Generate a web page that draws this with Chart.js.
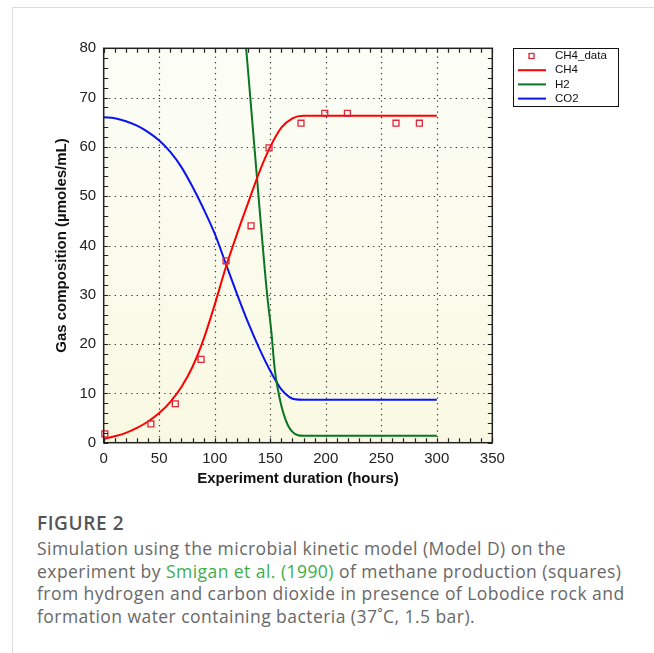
<!DOCTYPE html>
<html><head><meta charset="utf-8">
<script src="https://cdn.jsdelivr.net/npm/chart.js@4/dist/chart.umd.min.js"></script>
<style>
html,body{margin:0;padding:0;background:#fff;}
body{width:654px;height:653px;position:relative;overflow:hidden;}
#frameTop{position:absolute;left:13px;top:7px;width:641px;height:1px;background:#dcdcdc;}
#frameLeft{position:absolute;left:12px;top:7px;width:1px;height:646px;background:#dcdcdc;}
#wrap{position:absolute;left:0;top:0;width:654px;height:495px;}
#fig{position:absolute;left:37px;top:509px;font-family:"Open Sans","Noto Sans",sans-serif;font-size:19px;font-weight:600;color:#555;letter-spacing:0.6px;line-height:28px;}
#cap{position:absolute;left:37px;top:537px;font-family:"Open Sans","Noto Sans",sans-serif;font-size:17.5px;color:#686868;line-height:22.7px;letter-spacing:0.45px;white-space:nowrap;}
#cap .ref{color:#3dae4a;}
</style></head>
<body>
<div id="frameTop"></div><div id="frameLeft"></div>
<div id="wrap"><canvas id="c" width="654" height="495"></canvas></div>
<div id="fig">FIGURE 2</div>
<div id="cap">Simulation using the microbial kinetic model (Model D) on the<br>experiment by <span class="ref">Smigan et al. (1990)</span> of methane production (squares)<br>from hydrogen and carbon dioxide in presence of Lobodice rock and<br>formation water containing bacteria (37˚C, 1.5 bar).</div>
<script>
// measured CH4 (squares)
const dataHours = [1, 42.5, 64.5, 87.7, 110.2, 132.7, 148.9, 177.7, 199.1, 219.5, 263.3, 284.3];
const dataCH4   = [1.8, 3.8, 7.9, 16.9, 36.9, 44.0, 59.8, 64.8, 66.8, 66.8, 64.8, 64.8];
// model CH4
const ch4Hours = [0, 10, 20, 30, 40, 50, 60, 70, 80, 90, 100, 110, 120, 130, 140, 150, 160, 170, 180, 300];
const ch4Model = [0.8, 1.3, 2.0, 3.0, 4.3, 6.0, 8.3, 11.3, 15.4, 21.0, 28.0, 35.6, 42.3, 48.6, 54.8, 60.0, 63.9, 65.8, 66.3, 66.3];
// model H2
const h2Hours = [120, 130, 140, 147, 151, 154, 157, 160, 163, 166, 170, 175, 180, 300];
const h2Model = [101.5, 75.5, 48.5, 30.5, 22.5, 15.0, 10.7, 7.5, 5.2, 3.5, 2.2, 1.5, 1.4, 1.4];
// model CO2
const co2Hours = [0, 10, 20, 30, 40, 50, 60, 70, 80, 90, 100, 110, 120, 130, 140, 150, 160, 167, 172, 180, 300];
const co2Model = [66.0, 65.8, 65.2, 64.3, 63.0, 61.3, 59.0, 55.9, 51.9, 47.4, 42.4, 36.3, 30.2, 24.4, 19.2, 14.6, 10.8, 9.3, 8.8, 8.7, 8.7];
// axes
const xTicks = [0, 50, 100, 150, 200, 250, 300, 350];
const yTicks = [0, 10, 20, 30, 40, 50, 60, 70, 80];
const seriesNames = ['CH4_data', 'CH4', 'H2', 'CO2'];

const pts = (xs, ys) => xs.map((x, i) => ({x: x, y: ys[i]}));

const framePlugin = {
  id: 'frame',
  beforeDatasetsDraw(chart) {
    const {ctx, chartArea: a, scales: {x, y}} = chart;
    ctx.save();
    const g = ctx.createLinearGradient(a.left, a.top, a.left, a.bottom);
    g.addColorStop(0, '#fcfdf6');
    g.addColorStop(1, '#f9f9e3');
    ctx.fillStyle = g;
    ctx.fillRect(a.left, a.top, a.right - a.left, a.bottom - a.top);
    ctx.strokeStyle = '#333';
    ctx.lineWidth = 1.2;
    ctx.setLineDash([1.3, 4.2]);
    xTicks.forEach(v => {
      if (v === x.min || v === x.max) return;
      const px = Math.round(x.getPixelForValue(v)) + 0.5;
      ctx.beginPath(); ctx.moveTo(px, a.bottom); ctx.lineTo(px, a.top); ctx.stroke();
    });
    yTicks.forEach(v => {
      if (v === y.min || v === y.max) return;
      const py = Math.round(y.getPixelForValue(v)) + 0.5;
      ctx.beginPath(); ctx.moveTo(a.left, py); ctx.lineTo(a.right, py); ctx.stroke();
    });
    ctx.restore();
  },
  afterDatasetsDraw(chart) {
    const {ctx, chartArea: a, scales: {x, y}} = chart;
    ctx.save();
    ctx.strokeStyle = '#222';
    ctx.lineWidth = 1.2;
    const L = 4.5;
    for (let v = x.min; v <= x.max; v += 10) {
      const px = Math.round(x.getPixelForValue(v)) + 0.5;
      ctx.beginPath();
      ctx.moveTo(px, a.bottom); ctx.lineTo(px, a.bottom - L);
      ctx.moveTo(px, a.top); ctx.lineTo(px, a.top + L);
      ctx.stroke();
    }
    for (let v = y.min; v <= y.max; v += 2) {
      const py = Math.round(y.getPixelForValue(v)) + 0.5;
      ctx.beginPath();
      ctx.moveTo(a.left, py); ctx.lineTo(a.left + L, py);
      ctx.moveTo(a.right, py); ctx.lineTo(a.right - L, py);
      ctx.stroke();
    }
    ctx.lineWidth = 1.5;
    ctx.strokeRect(a.left, a.top, a.right - a.left, a.bottom - a.top);
    ctx.restore();
  },
  afterDraw(chart) {
    const ctx = chart.ctx;
    const bx = 513.5, by = 48.5, bw = 105, bh = 58;
    ctx.save();
    ctx.fillStyle = '#fff';
    ctx.fillRect(bx, by, bw, bh);
    ctx.strokeStyle = '#111';
    ctx.lineWidth = 1;
    ctx.strokeRect(bx, by, bw, bh);
    ctx.font = '11.5px "Liberation Sans", Arial, sans-serif';
    ctx.textBaseline = 'middle';
    chart.data.datasets.forEach((ds, i) => {
      const cy = by + 7.5 + i * 14.2;
      if (ds.showLine === false) {
        ctx.strokeStyle = ds.pointBorderColor;
        ctx.lineWidth = 1.3;
        ctx.strokeRect(529, cy - 2.5, 5, 5);
      } else {
        ctx.strokeStyle = ds.borderColor;
        ctx.lineWidth = 2;
        ctx.beginPath(); ctx.moveTo(518, cy); ctx.lineTo(546, cy); ctx.stroke();
      }
      ctx.fillStyle = '#111';
      ctx.fillText(ds.label, 555, cy);
    });
    ctx.restore();
  }
};

const tickFont = {family: '"Liberation Sans", Arial, sans-serif', size: 15};
const titleFont = {family: '"Liberation Sans", Arial, sans-serif', size: 15, weight: 'bold'};

new Chart(document.getElementById('c'), {
  type: 'line',
  data: {
    datasets: [
      {label: seriesNames[0], data: pts(dataHours, dataCH4), showLine: false, pointStyle: 'rect',
       pointRadius: 4.2, pointBorderWidth: 1.3, pointBorderColor: '#e0263a', pointBackgroundColor: 'rgba(0,0,0,0)', clip: false},
      {label: seriesNames[1], data: pts(ch4Hours, ch4Model), borderColor: '#ff0000', borderWidth: 2, pointRadius: 0, cubicInterpolationMode: 'monotone', clip: 0},
      {label: seriesNames[2], data: pts(h2Hours, h2Model), borderColor: '#0b7524', borderWidth: 2, pointRadius: 0, cubicInterpolationMode: 'monotone', clip: 0},
      {label: seriesNames[3], data: pts(co2Hours, co2Model), borderColor: '#0a14f0', borderWidth: 2, pointRadius: 0, cubicInterpolationMode: 'monotone', clip: 0}
    ]
  },
  options: {
    responsive: false,
    animation: false,
    events: [],
    layout: {padding: {left: 40, right: 161.7, top: 48.3, bottom: 0}},
    plugins: {legend: {display: false}, tooltip: {enabled: false}},
    scales: {
      x: {
        type: 'linear', min: 0, max: 350,
        afterBuildTicks: s => { s.ticks = xTicks.map(v => ({value: v})); },
        afterFit: s => { s.height = 52.3; },
        grid: {display: false, drawTicks: false}, border: {display: false},
        ticks: {font: tickFont, color: '#222', padding: 7, maxRotation: 0},
        title: {display: true, text: 'Experiment duration (hours)', font: titleFont, color: '#111', padding: {top: 0, bottom: 7.5}}
      },
      y: {
        type: 'linear', min: 0, max: 80,
        afterBuildTicks: s => { s.ticks = yTicks.map(v => ({value: v})); },
        afterFit: s => { s.width = 63.7; },
        grid: {display: false, drawTicks: false}, border: {display: false},
        ticks: {font: tickFont, color: '#222', padding: 7.5},
        title: {display: true, text: 'Gas composition (µmoles/mL)', font: titleFont, color: '#111', padding: {top: 13, bottom: 0}}
      }
    }
  },
  plugins: [framePlugin]
});
</script>
</body></html>
